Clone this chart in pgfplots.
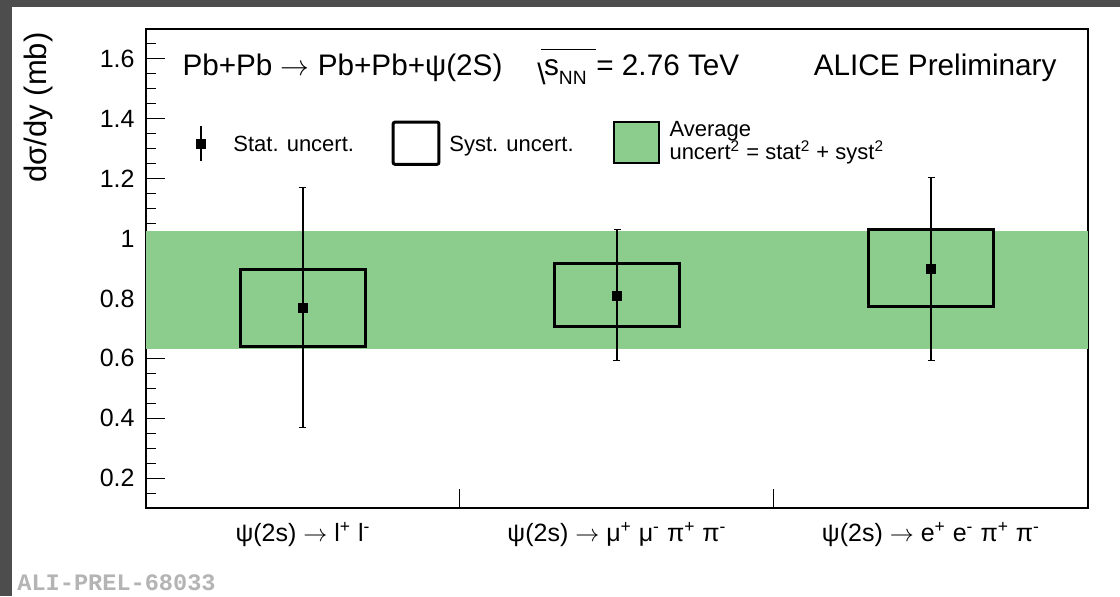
\documentclass[border=0pt]{standalone}
\usepackage{fontspec}
\setmainfont{Liberation Sans}
\newfontfamily\alimono{Liberation Mono}
\usepackage{pgfplots}
\usepackage{pgfplotstable}
\pgfplotsset{compat=1.18}
\definecolor{bandgreen}{RGB}{140,204,140}
\definecolor{framegray}{RGB}{77,77,77}
\definecolor{aligray}{RGB}{180,180,180}

\pgfplotstableread{
x y ep em
0.5 0.770 0.401 0.402
1.5 0.810 0.221 0.218
2.5 0.900 0.305 0.308
}\datatable

\begin{document}
\begin{tikzpicture}
\useasboundingbox (-73pt,-44pt) rectangle (487pt,254pt);
\fill[framegray] (-73pt,-44pt) rectangle (487pt,254pt);
\fill[white] (-67pt,-44pt) rectangle (487pt,250.5pt);
\begin{axis}[
  at={(0,0)}, anchor=south west, scale only axis,
  width=471pt, height=239.5pt,
  xmin=0, xmax=3, ymin=0.1, ymax=1.7,
  axis line style={line width=0.8pt},
  tick align=inside, xtick pos=lower, ytick pos=left,
  xtick={1,2}, xticklabels={{},{}},
  extra x ticks={0.5,1.5,2.5},
  extra x tick labels={{ψ(2s) $\rightarrow$ l\textsuperscript{+} l\textsuperscript{-}},
    {ψ(2s) $\rightarrow$ μ\textsuperscript{+} μ\textsuperscript{-} π\textsuperscript{+} π\textsuperscript{-}},
    {ψ(2s) $\rightarrow$ e\textsuperscript{+} e\textsuperscript{-} π\textsuperscript{+} π\textsuperscript{-}}},
  extra x tick style={major tick length=0pt},
  ytick={0.2,0.4,0.6,0.8,1.0,1.2,1.4,1.6},
  yticklabels={0.2,0.4,0.6,0.8,1,1.2,1.4,1.6},
  minor ytick={0.1,0.15,...,1.7},
  major tick length=9.5pt, minor tick length=5pt,
  every tick/.style={black, line width=0.5pt},
  yticklabel style={font=\fontsize{12.5}{15}\selectfont, inner sep=0pt, xshift=-5.5pt},
  xticklabel style={font=\fontsize{12.5}{15}\selectfont, inner sep=0pt, yshift=-7pt},
  ylabel={dσ/dy (mb)},
  ylabel style={at={(axis description cs:-0.0987,0.9937)}, anchor=south east, inner sep=0pt, font=\fontsize{15.5}{18}\selectfont},
]
% average band
\addplot[fill=bandgreen, draw=none] coordinates {(0,0.632)(3,0.632)(3,1.024)(0,1.024)} -- cycle;
% systematic boxes
\addplot[black, line width=1.5pt] coordinates {(0.30,0.639)(0.70,0.639)(0.70,0.897)(0.30,0.897)} -- cycle;
\addplot[black, line width=1.5pt] coordinates {(1.30,0.706)(1.70,0.706)(1.70,0.917)(1.30,0.917)} -- cycle;
\addplot[black, line width=1.5pt] coordinates {(2.30,0.773)(2.70,0.773)(2.70,1.031)(2.30,1.031)} -- cycle;
% points with stat errors
\addplot[only marks, mark=square*, mark size=2.25pt, black,
  error bars/.cd, y dir=both, y explicit,
  error bar style={line width=0.65pt, black},
  error mark options={rotate=90, mark size=1.75pt, line width=0.65pt, black}]
  table[x=x, y=y, y error plus=ep, y error minus=em]{\datatable};
% legend symbols
\addplot[black, line width=0.65pt] coordinates {(0.175,1.258)(0.175,1.376)};
\addplot[only marks, mark=square*, mark size=2.25pt, black] coordinates {(0.175,1.316)};
\addplot[black, line width=1.5pt, rounded corners=1pt] coordinates {(0.787,1.248)(0.933,1.248)(0.933,1.389)(0.787,1.389)} -- cycle;
\addplot[fill=bandgreen, draw=black, line width=1pt] coordinates {(1.490,1.252)(1.634,1.252)(1.634,1.389)(1.490,1.389)} -- cycle;
% texts
\node[anchor=base west, inner sep=0pt, font=\fontsize{14.85}{17}\selectfont] at (axis cs:0.115,1.546) {Pb+Pb $\rightarrow$ Pb+Pb+ψ(2S)};
\node[anchor=base west, inner sep=0pt, font=\fontsize{14.85}{17}\selectfont] at (axis cs:1.245,1.546) {\raisebox{-0.3em}{\textbackslash}\kern-0.15em\rlap{\rule[0.84em]{1.85em}{0.05em}}\kern0.1em s\raisebox{-0.3em}{\fontsize{9.6}{11}\selectfont NN}\kern0.05em{} = 2.76 TeV};
\node[anchor=base east, inner sep=0pt, font=\fontsize{14.85}{17}\selectfont] at (axis cs:2.901,1.546) {ALICE Preliminary};
\node[anchor=base west, inner sep=0pt, font=\fontsize{11}{13}\selectfont] at (axis cs:0.277,1.292) {Stat. uncert.};
\node[anchor=base west, inner sep=0pt, font=\fontsize{11}{13}\selectfont] at (axis cs:0.965,1.292) {Syst. uncert.};
\node[anchor=base west, inner sep=0pt, font=\fontsize{11}{13}\selectfont] at (axis cs:1.666,1.342) {Average};
\node[anchor=base west, inner sep=0pt, font=\fontsize{11}{13}\selectfont] at (axis cs:1.666,1.265) {uncert\textsuperscript{2} = stat\textsuperscript{2} + syst\textsuperscript{2}};
\end{axis}
\node[anchor=base west, inner sep=0pt, text=aligray, font=\alimono\bfseries\fontsize{11.8}{14}\selectfont] at (-64.5pt,-41pt) {ALI-PREL-68033};
\end{tikzpicture}
\end{document}
